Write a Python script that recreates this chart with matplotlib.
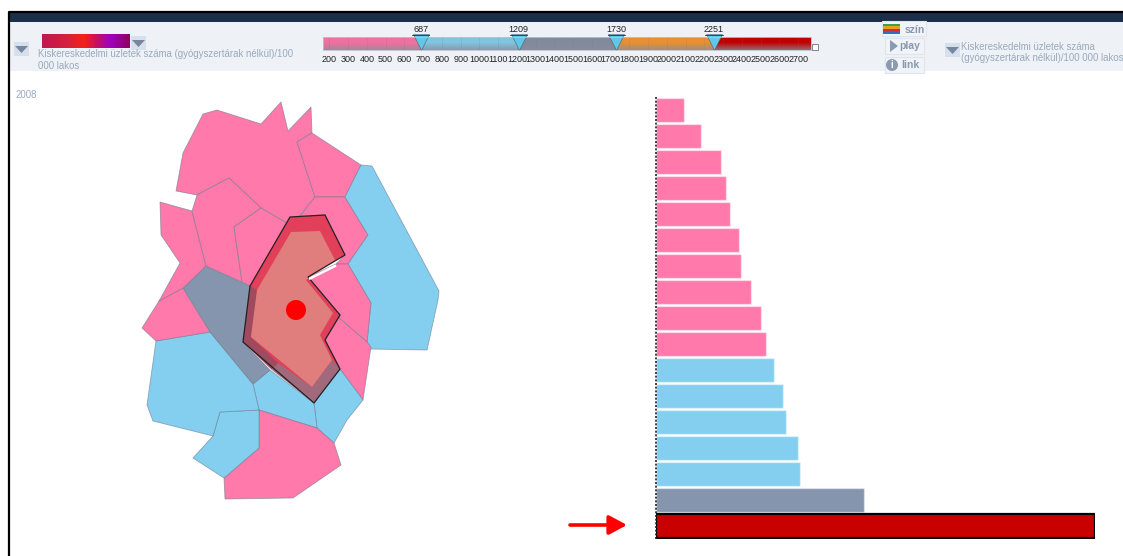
import numpy as np
import matplotlib
matplotlib.use("Agg")
import matplotlib.pyplot as plt
from matplotlib.colors import LinearSegmentedColormap, to_rgb
from matplotlib.patches import Polygon, Rectangle, Circle

plt.rcParams["font.family"] = ["Liberation Sans", "DejaVu Sans"]

W, H = 1123, 556

PINK = "#ff7aaa"
BLUE = "#84cff0"
GRAY = "#8495ad"
ORANGE = "#e89030"
RED = "#c80000"
TEXT = "#9aa9bd"

# bar chart
bar_values = [174, 279, 406, 434, 459, 512, 524, 586, 651, 682,
              732, 787, 809, 880, 890, 1290, 2719]
breaks = [687, 1209, 1730, 2251]
break_colors = [PINK, BLUE, GRAY, ORANGE, RED]
scale_ticks = list(range(200, 2800, 100))

# map regions, outlines in picture pixels
region_top = [(203, 114), (217, 110), (261, 124), (281, 102), (288, 131), (311, 107),
              (312, 133), (297, 142), (315, 197), (300, 216), (290, 225), (261, 208),
              (229, 178), (197, 195), (176, 191), (183, 153)]
region_north_east = [(312, 133), (361, 165), (345, 197), (315, 197), (297, 142)]
region_east_1 = [(315, 197), (345, 197), (368, 235), (348, 264), (336, 264), (345, 255),
                 (325, 215), (300, 216)]
region_far_east = [(361, 165), (372, 166), (439, 291), (438, 300), (427, 350), (370, 349),
                   (367, 342), (371, 303), (348, 264), (368, 235), (345, 197)]
region_east_2 = [(348, 264), (371, 303), (367, 342), (339, 318), (340, 315), (308, 277), (336, 264)]
region_east_3 = [(339, 318), (367, 342), (371, 347), (363, 400), (340, 369), (325, 340), (340, 315)]
region_south_east = [(340, 369), (363, 400), (347, 420), (334, 443), (317, 428), (314, 403)]
region_south = [(253, 384), (270, 370), (314, 403), (317, 428), (259, 410)]
region_bottom = [(259, 410), (317, 428), (334, 443), (341, 465), (293, 498), (225, 499),
                 (224, 478), (259, 448)]
region_south_west = [(220, 412), (259, 410), (259, 448), (224, 478), (193, 458), (213, 436)]
region_west = [(156, 341), (210, 332), (253, 384), (259, 410), (220, 412), (213, 436),
               (153, 421), (147, 405)]
region_center_west = [(206, 266), (250, 286), (243, 342), (270, 370), (253, 384), (210, 332), (183, 288)]
region_left_low = [(142, 328), (156, 341), (210, 332), (190, 300), (183, 288), (159, 301)]
region_left = [(160, 202), (192, 211), (206, 266), (183, 288), (159, 301), (180, 263), (161, 235)]
region_mid_1 = [(197, 195), (229, 178), (261, 208), (234, 227), (242, 282), (206, 266), (192, 211)]
region_mid_2 = [(261, 208), (290, 225), (250, 286), (242, 282), (234, 227)]

map_regions = [
    (region_top, PINK), (region_north_east, PINK), (region_east_1, PINK),
    (region_far_east, BLUE), (region_east_2, PINK), (region_east_3, PINK),
    (region_south_east, BLUE), (region_south, BLUE), (region_bottom, PINK),
    (region_south_west, BLUE), (region_west, BLUE), (region_center_west, GRAY),
    (region_left_low, PINK), (region_left, PINK), (region_mid_1, PINK), (region_mid_2, PINK),
]

# selected region: outline, inner fill and the darker parts of its band
selected_outer = [(290, 217), (325, 215), (345, 255), (308, 277), (340, 315), (325, 340),
                  (340, 369), (314, 403), (243, 342), (250, 286)]
selected_inner = [(291, 232), (320, 231), (335, 260), (306, 280), (333, 313), (320, 335),
                  (332, 360), (312, 387), (251, 337), (257, 290)]
band_over_gray = [(250, 286), (257, 290), (251, 337), (278, 363), (272, 370), (243, 342)]
band_over_blue = [(272, 370), (278, 363), (312, 387), (332, 360), (340, 369), (314, 403)]

fig = plt.figure(figsize=(W / 100, H / 100), dpi=100)
page = fig.add_axes([0, 0, 1, 1])
page.set_xlim(0, W)
page.set_ylim(H, 0)
page.axis("off")


def sub_axes(x0, y0, x1, y1):
    # axes placed by picture pixels
    return fig.add_axes([x0 / W, 1 - y1 / H, (x1 - x0) / W, (y1 - y0) / H])


def dropdown(x, y):
    page.add_patch(Rectangle((x, y), 15, 14, color="#d6e0ec", lw=0))
    page.add_patch(Polygon([(x + 1, y + 4), (x + 14, y + 4), (x + 7.5, y + 11)], color="#76869e", lw=0))


# frame and toolbar
page.add_patch(Rectangle((8, 22), W, 49, color="#eef2f6", lw=0))
page.add_patch(Rectangle((8, 12), W, 10, color="#1c2f4a", lw=0))
page.plot([8.5, 8.5, W], [H, 11.5, 11.5], color="black", lw=1.6)

dropdown(14, 42)
dropdown(131, 36)
dropdown(945, 43)

color_ax = sub_axes(42, 34, 130, 48)
color_map = LinearSegmentedColormap.from_list(
    "picked", [(0, "#c01850"), (0.3, "#d82038"), (0.48, "#f52018"), (0.62, "#c81060"),
               (0.78, "#a000c0"), (1, "#90005a")])
color_ax.imshow(np.linspace(0, 1, 100)[None, :], cmap=color_map, aspect="auto")
color_ax.axis("off")

page.text(38, 54, "Kiskereskedelmi üzletek száma (gyógyszertárak nélkül)/100", fontsize=6.9,
          color=TEXT, va="center")
page.text(38, 66, "000 lakos", fontsize=6.9, color=TEXT, va="center")
page.text(961, 47, "Kiskereskedelmi üzletek száma", fontsize=6.9, color=TEXT, va="center")
page.text(961, 58, "(gyógyszertárak nélkül)/100 000 lakos", fontsize=6.9, color=TEXT, va="center")
page.text(16, 95, "2008", fontsize=6.9, color=TEXT, va="center")

# colour slider
slider = sub_axes(323, 37, 811, 50)
slider_min, slider_max = 166, 2768
values = np.linspace(slider_min, slider_max, 488)
row = np.array([to_rgb(["#f070a0", "#80c4e0", "#808a9c", ORANGE, "#c00000"][i])
                for i in np.searchsorted(breaks, values)])
fade = np.clip(np.linspace(-0.5, 0.7, 13), 0, 1)[:, None, None]
slider.imshow(row[None, :, :] * (1 - fade) + np.array([0.55, 0.55, 0.6]) * fade, aspect="auto",
              extent=(slider_min, slider_max, 0, 1))
slider.vlines(scale_ticks, 0, 1, color="#707080", lw=0.5, alpha=0.2)
slider.set_xlim(slider_min, slider_max)
slider.set_ylim(0, 1)
slider.set_yticks([])
slider.set_xticks(scale_ticks)
slider.set_xticklabels(scale_ticks, fontsize=6.5, color="#222222")
slider.tick_params(axis="x", length=0, pad=3.5)
for s in slider.spines.values():
    s.set_color("#b8c4d0")
    s.set_linewidth(0.6)
slider.plot(breaks, [0.58] * 4, ls="none", marker="v", ms=11, mfc="#62c6e6", mec="#506070",
            mew=0.4, clip_on=False)
for b in breaks:
    slider.text(b, 1.2, str(b), fontsize=6.5, color="#222222", ha="center", va="bottom", clip_on=False)
    slider.plot([b - 46, b + 46], [1.16, 1.16], color="#333333", lw=0.6, clip_on=False)
page.add_patch(Rectangle((812, 44), 6, 6, fc="white", ec="#707080", lw=0.6))

# buttons on the right
for x0, y0, x1, y1 in [(882, 21, 926, 36), (885, 38, 924, 54), (885, 57, 924, 73)]:
    page.add_patch(Rectangle((x0, y0), x1 - x0, y1 - y0, fc="#f0f3f7", ec="#dfe5ec", lw=0.8))
for i, c in enumerate(["#3aa040", "#e8a020", "#d03030", "#3070c0"]):
    page.add_patch(Rectangle((883, 23.5 + i * 2.5), 17, 2.5, color=c, lw=0))
page.add_patch(Polygon([(890, 40), (898, 46), (890, 52)], color="#8a9ab2", lw=0))
page.add_patch(Circle((892, 65), 6, color="#8a9ab2", lw=0))
page.text(892, 65, "i", fontsize=7, color="white", weight="bold", ha="center", va="center")
page.text(905, 30, "szín", fontsize=7.5, color="#8a98ac", weight="bold", va="center")
page.text(899, 46, "play", fontsize=7.5, color="#8a98ac", weight="bold", va="center")
page.text(901, 65, "link", fontsize=7.5, color="#8a98ac", weight="bold", va="center")

# map
for pts, color in map_regions:
    page.add_patch(Polygon(pts, closed=True, fc=color, ec=(0.42, 0.47, 0.55, 0.6), lw=0.6, joinstyle="round"))

page.add_patch(Polygon(selected_outer, closed=True, fc="#e23f5a", ec="none"))
for pts, color in [(band_over_gray, "#a04a60"), (band_over_blue, "#a06a7c")]:
    page.add_patch(Polygon(pts, closed=True, fc=color, ec="none"))
page.add_patch(Polygon(selected_inner, closed=True, fc="#e07d7d", ec="none"))
page.add_patch(Polygon(selected_outer, closed=True, fc="none", ec="#222222", lw=0.9))
page.plot([336, 309], [265.5, 279], color="white", lw=1.8, solid_capstyle="butt")
page.add_patch(Circle((296, 310), 10, color="#ff0000", lw=0))

# bars
bars = sub_axes(656, 97, 1095, 539)
bar_colors = [break_colors[i] for i in np.searchsorted(breaks, bar_values)]
bar_colors[-1] = RED
bars.barh(range(len(bar_values)), bar_values, height=0.94, color=bar_colors,
          edgecolor=[(1, 1, 1, 0.45)] * len(bar_values), linewidth=1)
bars.barh(len(bar_values) - 1, bar_values[-1], height=0.94, color=RED, edgecolor="black", linewidth=1.6)
bars.set_xlim(0, 2722)
bars.set_ylim(len(bar_values) - 0.5, -0.5)
bars.axvline(0, color="#222222", lw=1.2, ls=(0, (1.2, 1)), clip_on=False)
bars.axis("off")

# arrow pointing at the selected bar
page.annotate("", xy=(627, 525), xytext=(570, 525),
              arrowprops=dict(arrowstyle="-|>,head_width=0.58,head_length=1.08", color="#ff0000",
                              lw=2.6, shrinkA=0, shrinkB=0))

fig.savefig("out.png", dpi=100)
